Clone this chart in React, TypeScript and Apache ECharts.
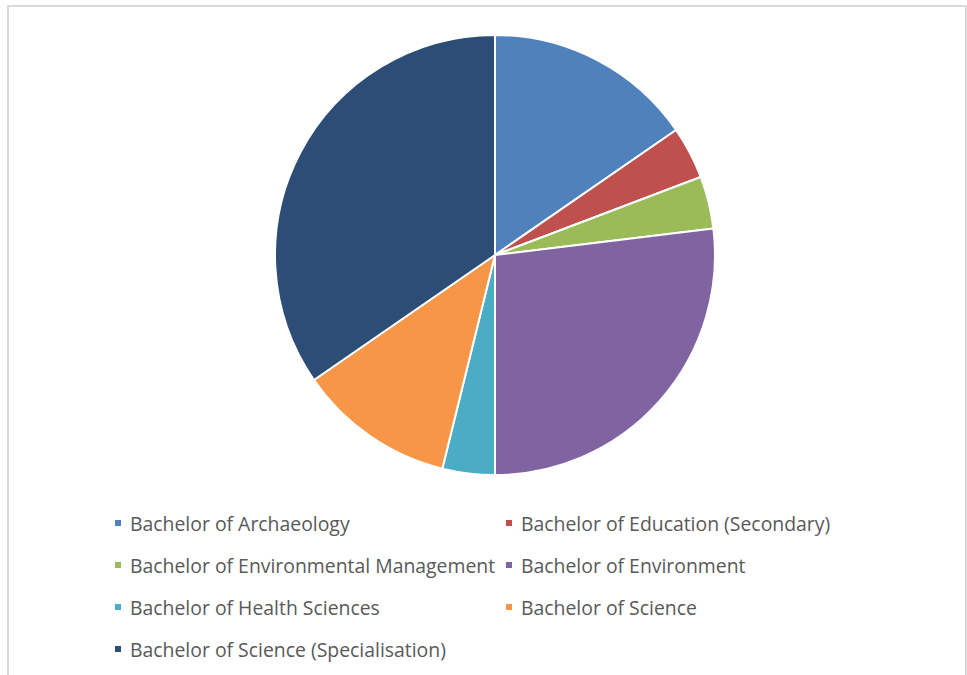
import React, { useEffect, useRef } from "react";
import * as echarts from "echarts";

const categories = [
  "Bachelor of Archaeology",
  "Bachelor of Education (Secondary)",
  "Bachelor of Environmental Management",
  "Bachelor of Environment",
  "Bachelor of Health Sciences",
  "Bachelor of Science",
  "Bachelor of Science (Specialisation)",
];
const values = [4, 1, 1, 7, 1, 3, 9];
const colors = ["#4F81BD", "#C0504D", "#9BBB59", "#8064A2", "#4BACC6", "#F79646", "#2C4D75"];
const leftLegend = [categories[0], categories[2], categories[4], categories[6]];
const rightLegend = [categories[1], categories[3], categories[5]];

export default function App() {
  const ref = useRef<HTMLDivElement>(null);
  useEffect(() => {
    document.body.style.margin = "0";
    const chart = echarts.init(ref.current!, null, { renderer: "svg" });
    const legendBase = {
      orient: "vertical" as const,
      icon: "rect",
      itemWidth: 8,
      itemHeight: 8,
      itemGap: 22,
      padding: 0,
      selectedMode: false,
      textStyle: {
        fontFamily: "Open Sans",
        fontSize: 19.4,
        color: "#595959",
        lineHeight: 20,
        padding: [0, 0, 0, 3],
      },
    };
    chart.setOption({
      animation: false,
      color: colors,
      graphic: [
        {
          type: "rect",
          shape: { x: 8, y: 6, width: 958, height: 700 },
          style: { fill: "none", stroke: "#D9D9D9", lineWidth: 2 },
          silent: true,
        },
      ],
      legend: [
        { ...legendBase, left: 113, top: 513, data: leftLegend },
        { ...legendBase, left: 504, top: 513, data: rightLegend },
      ],
      series: [
        {
          type: "pie",
          center: [495, 255],
          radius: 220,
          startAngle: 90,
          clockwise: true,
          label: { show: false },
          labelLine: { show: false },
          itemStyle: { borderColor: "#FFFFFF", borderWidth: 2 },
          data: categories.map((name, i) => ({ name, value: values[i] })),
        },
      ],
    });
    return () => chart.dispose();
  }, []);
  return <div ref={ref} style={{ width: 967, height: 675 }} />;
}
